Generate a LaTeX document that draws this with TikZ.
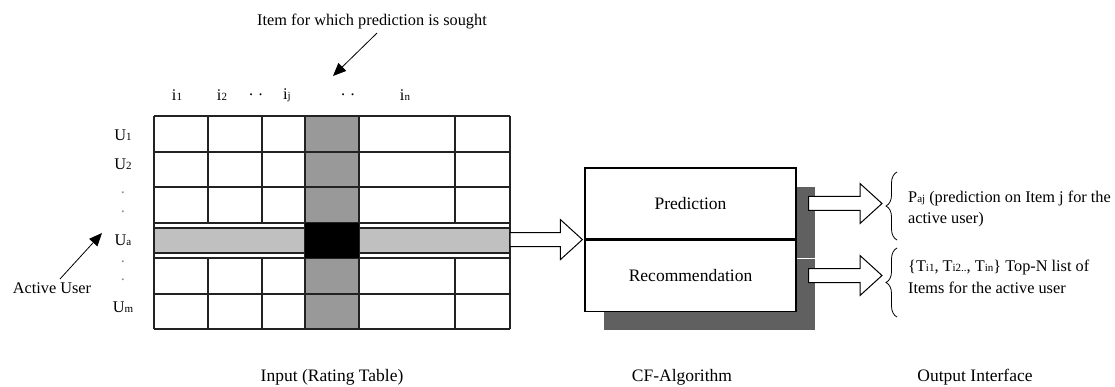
\documentclass[tikz,border=0pt]{standalone}
\usepackage{fontspec}
\setmainfont{Liberation Serif}
\usepackage{tikz}
\usetikzlibrary{arrows.meta, positioning, calc, shadows, decorations.pathreplacing}
\usepackage{xcolor}

\definecolor{colgray}{HTML}{999999}
\definecolor{bandgray}{HTML}{C0C0C0}
\definecolor{shadowgray}{HTML}{606060}
\definecolor{gridline}{HTML}{222222}

\newcommand{\idx}[1]{{\fontsize{11}{11}\selectfont #1}}

\begin{document}
\begin{tikzpicture}[x=1pt, y=-1pt, font=\fontsize{16.3}{21.5}\selectfont]

	% Define style for boxes
	\tikzset{box/.style={rectangle, draw, fill=white, line width=1.2pt,
			minimum width=211, minimum height=71,
			font=\fontsize{17.5}{21}\selectfont,
			drop shadow={shadow xshift=19pt, shadow yshift=-19pt, fill=shadowgray, opacity=1}},
		caption/.style={font=\fontsize{17.5}{21}\selectfont},
		gridlines/.style={draw=gridline, line width=1.1pt}}

	% Define style for arrows
	\tikzset{pointer/.style={draw, line width=0.8pt, -{Triangle[length=13pt, width=11pt]}},
		fat arrow/.style={draw, fill=white, line width=1pt, to path={
				($(\tikztostart)+(0,-7)$) -- ($(\tikztotarget)+(-22,-7)$) -- ($(\tikztotarget)+(-22,-20)$)
				-- (\tikztotarget) -- ($(\tikztotarget)+(-22,20)$) -- ($(\tikztotarget)+(-22,7)$)
				-- ($(\tikztostart)+(0,7)$) -- cycle}},
		curly/.style={draw, line width=0.8pt, decorate, decoration={brace, amplitude=11pt}}}

	\useasboundingbox (0,0) rectangle (1115,387);

	% Rating table
	\node[minimum width=356, minimum height=213, inner sep=0] (table) at (332,222.5) {};
	\fill[colgray] (305,116) rectangle (359,329);
	\foreach \y in {116,152,187,223,258,294,329}
		\draw[gridlines] (154,\y) -- (510,\y);
	\foreach \x in {208,262,455} {
		\draw[gridlines] (\x,116) -- (\x,223);
		\draw[gridlines] (\x,258) -- (\x,329);
	}
	\foreach \x in {154,305,359,510}
		\draw[gridlines] (\x,116) -- (\x,329);
	\filldraw[gridlines, fill=bandgray] (154,228) rectangle (305,253) (359,228) rectangle (510,253);
	\fill (305,223) rectangle (359,258);

	% Place labels
	\foreach \x/\n/\t in {177/c1/i\idx{1}, 222/c2/i\idx{2}, 256/d1/. ., 287/cj/i\idx{j}, 348/d2/. ., 405/cn/i\idx{n}}
		\node (\n) at (\x,95) {\t};
	\foreach \y/\n/\t in {135/u1/U\idx{1}, 164/u2/U\idx{2}, 240/ua/U\idx{a}, 307/um/U\idx{m}}
		\node (\n) at (123,\y) {\t};
	\foreach \y/\n in {193/r1, 212/r2, 262/r3, 280/r4}
		\node[text=black!45] (\n) at (123,\y) {.};

	\node (sought) at (372,22) {Item for which prediction is sought};
	\coordinate (colj) at (333,76);
	\draw[pointer] ([xshift=5]sought.south) -- (colj);

	\node (user) at (52,288) {Active User};
	\coordinate (usertip) at (102,233);
	\draw[pointer] ([xshift=8]user.north) -- (usertip);

	% Place nodes
	\node[box] (pred) at (690.5,203.5) {Prediction};
	\node[box, below=0pt of pred] (rec) {Recommendation};

	% Draw edges
	\coordinate (in1) at (table.east |- pred.south west);
	\coordinate (in2) at ([xshift=-2]pred.south west);
	\draw[fat arrow] (in1) to (in2);

	\coordinate (out1) at ([xshift=12]pred.east);
	\coordinate (tip1) at (882,203.5);
	\draw[fat arrow] (out1) to (tip1);
	\coordinate (out2) at ([xshift=12]rec.east);
	\coordinate (tip2) at (882,275.5);
	\draw[fat arrow] (out2) to (tip2);

	% Output
	\draw[curly] (897,240) -- (897,172);
	\draw[curly] (897,317) -- (897,248);
	\node[anchor=west, align=left, inner sep=0] (paj) at (908,209)
		{P\idx{aj} (prediction on Item j for the\\active user)};
	\node[anchor=west, align=left, inner sep=0] (topn) at (908,277)
		{\{T\idx{i1}, T\idx{i2..}, T\idx{in}\} Top-N list of\\Items for the active user};

	% Captions
	\node[caption] (input) at (332,377) {Input (Rating Table)};
	\node[caption] (cf) at (682,377) {CF-Algorithm};
	\node[caption] (output) at (975,377) {Output Interface};
\end{tikzpicture}
\end{document}
